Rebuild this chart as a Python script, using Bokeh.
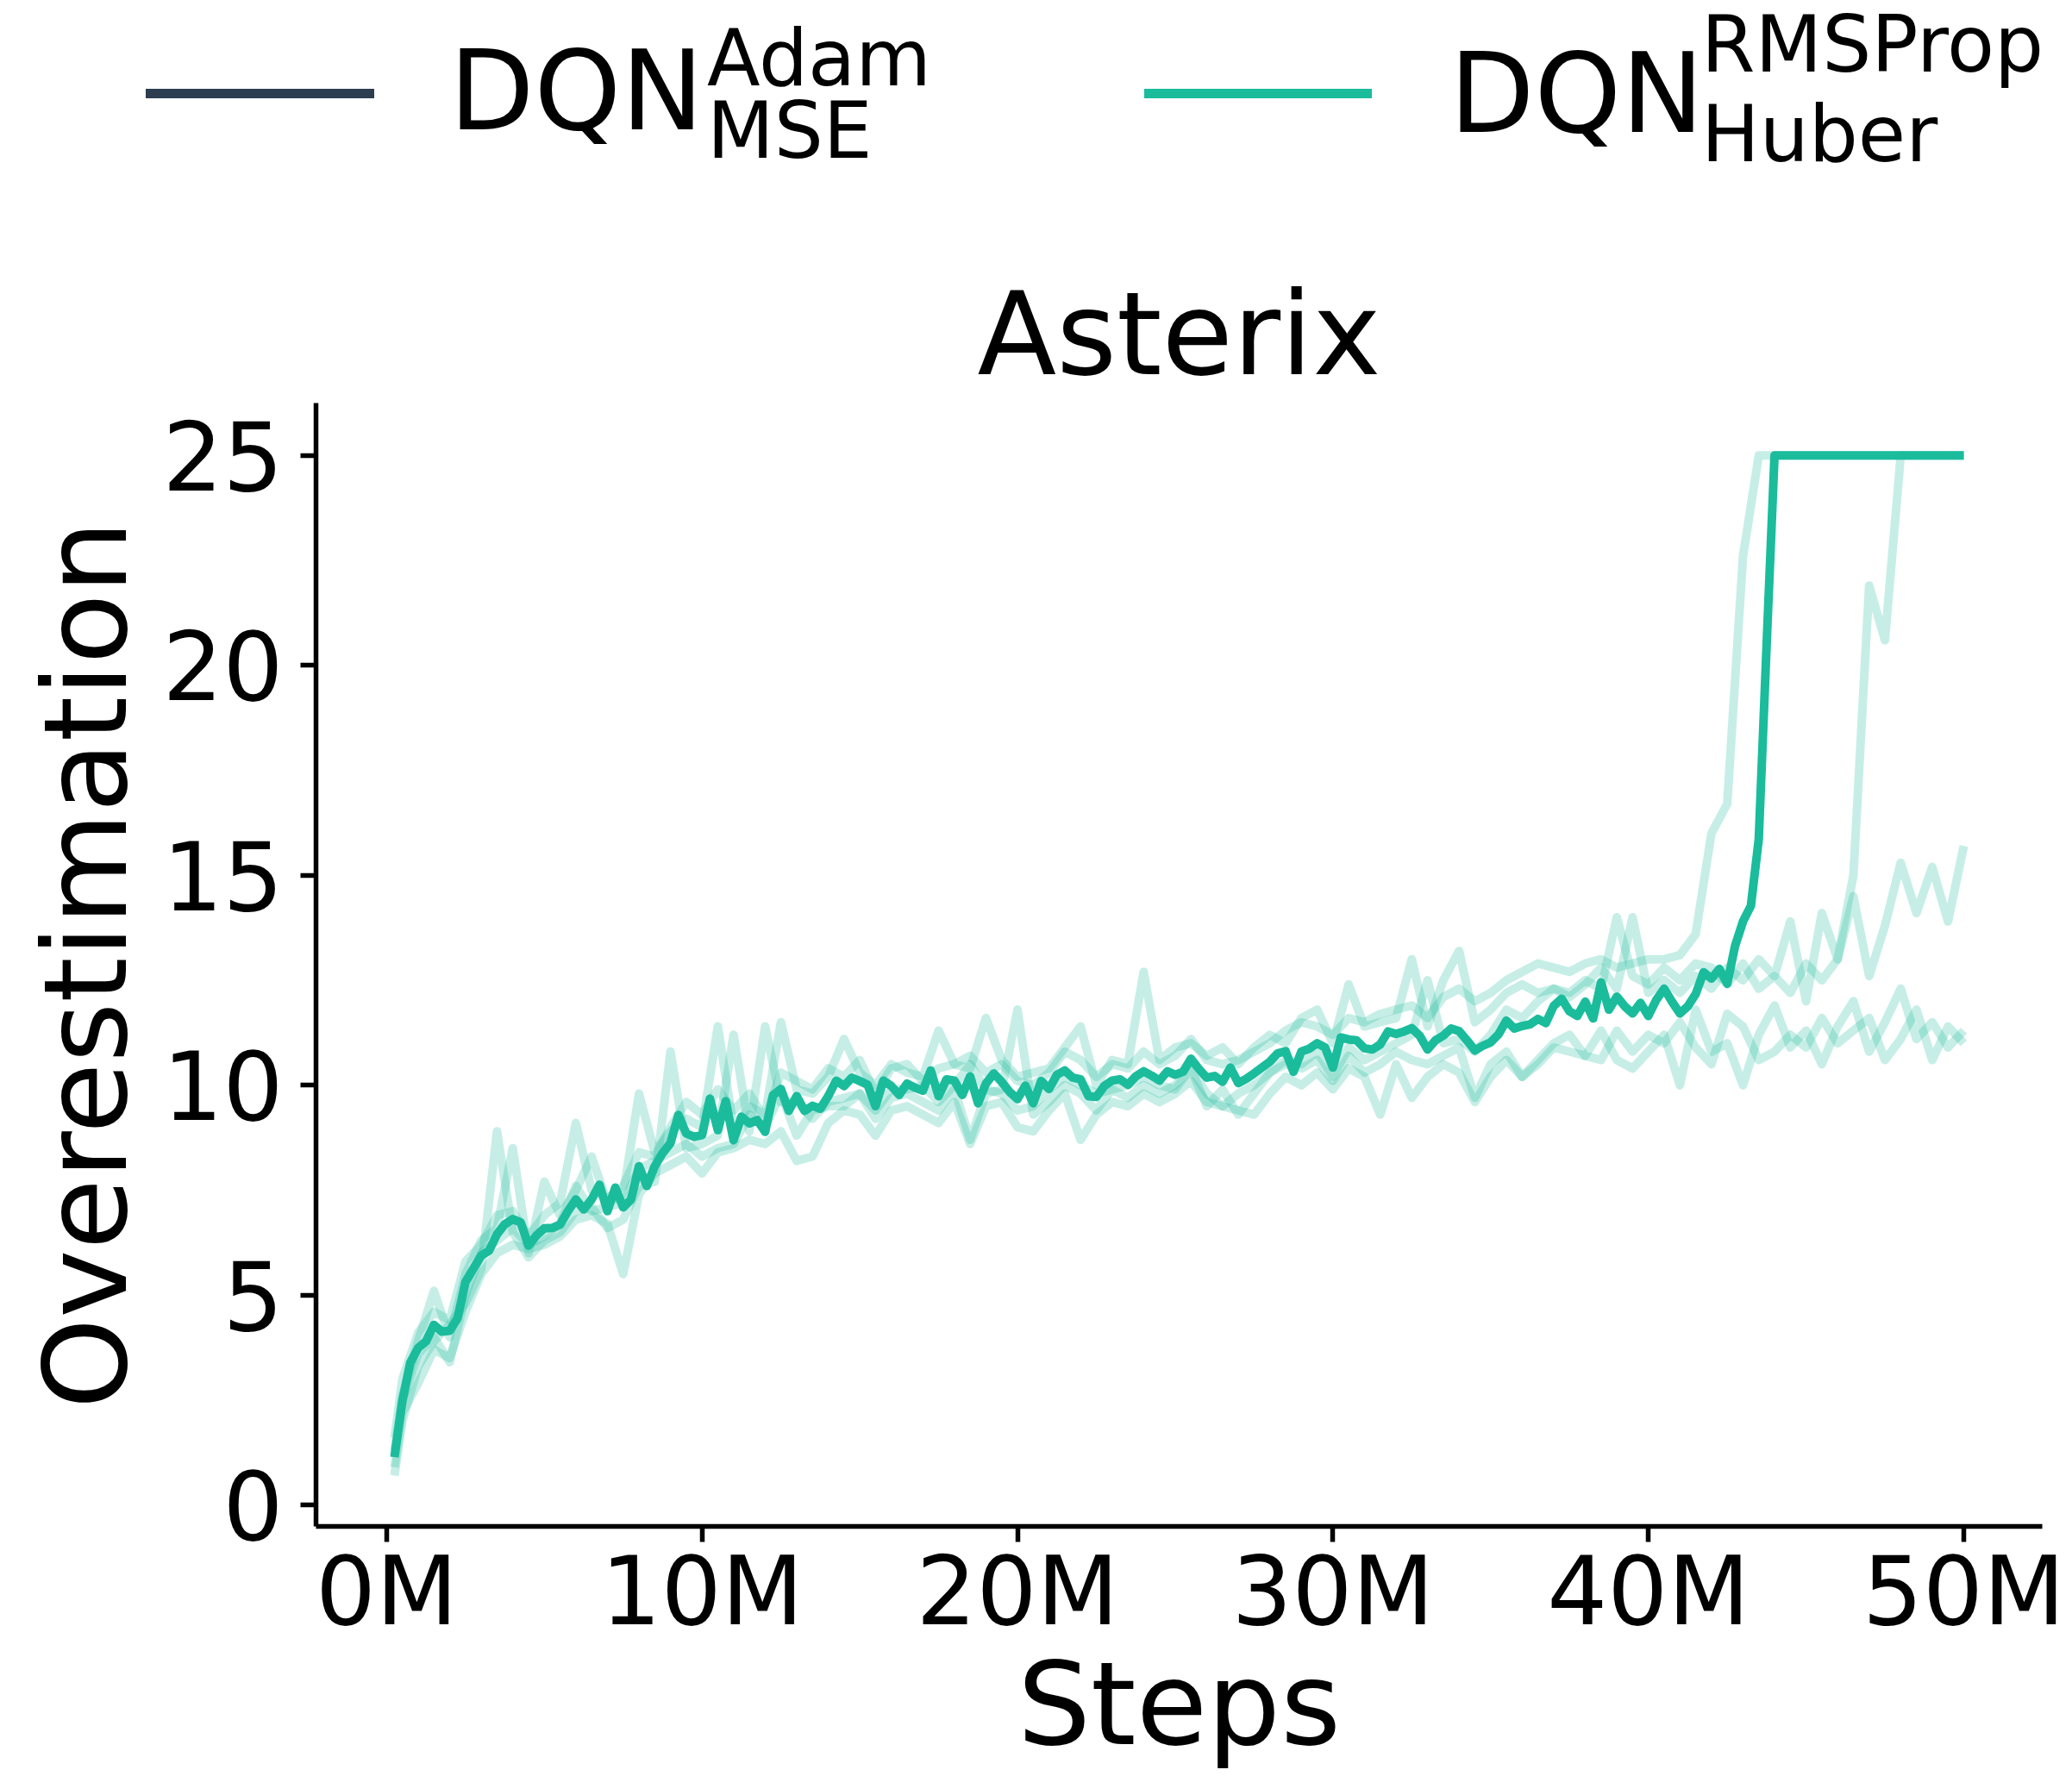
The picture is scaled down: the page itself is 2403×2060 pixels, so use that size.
import numpy as np
from bokeh.plotting import figure
from bokeh.layouts import column
from bokeh.models import Range1d, FixedTicker, Div
from bokeh.embed import file_html
from bokeh.resources import INLINE

FONT = "DejaVu Sans"
TEAL = "#1abc9c"
NAVY = "#2c3e50"

# ---------------------------------------------------------------- data
# evaluation points, in millions of environment steps
steps = np.arange(1, 201) * 0.25                       # mean curve
run_steps = np.concatenate([[0.25], np.arange(1, 101) * 0.5])  # single seeds

# mean overestimation of DQN (RMSProp, Huber), clipped at 25
mean_rmsprop_huber = [
    1.14, 2.48, 3.39, 3.74,   3.90, 4.29, 4.13, 4.15,   4.45, 5.31, 5.63, 5.94,
    6.06, 6.45, 6.69, 6.81,   6.73, 6.18, 6.42, 6.59,   6.60, 6.68, 7.00, 7.28,
    7.04, 7.28, 7.63, 7.00,   7.56, 7.09, 7.28, 8.07,   7.60, 8.07, 8.38, 8.62,
    9.29, 8.85, 8.77, 8.81,   9.68, 8.93, 9.62, 8.69,   9.25, 9.09, 9.17, 8.89,
    9.76, 9.91, 9.39, 9.74,   9.39, 9.51, 9.44, 9.74,   10.11, 9.98, 10.18, 10.10,
    10.01, 9.50, 10.11, 9.98, 9.77, 10.04, 9.94, 9.87,  10.35, 9.74, 10.14, 10.11,
    9.77, 10.21, 9.57, 10.04, 10.28, 10.08, 9.84, 9.67, 9.99, 9.57, 10.10, 9.91,
    10.25, 10.35, 10.18, 10.14, 9.74, 9.72, 9.98, 10.11, 10.14, 10.01, 10.21, 10.33,
    10.23, 10.11, 10.33, 10.25, 10.32, 10.63, 10.39, 10.18, 10.22, 10.08, 10.42, 10.05,
    10.15, 10.28, 10.42, 10.56, 10.76, 10.81, 10.32, 10.80, 10.87, 11.00, 10.90, 10.42,
    11.14, 11.09, 11.07, 10.88, 10.85, 10.97, 11.28, 11.22, 11.28, 11.36, 11.18, 10.85,
    11.07, 11.18, 11.35, 11.29, 11.07, 10.83, 10.94, 11.02, 11.21, 11.54, 11.35, 11.41,
    11.45, 11.58, 11.48, 11.89, 12.06, 11.76, 11.65, 11.99, 11.59, 12.45, 11.80, 12.11,
    11.88, 11.71, 11.96, 11.65, 12.03, 12.30, 11.99, 11.71, 11.88, 12.17, 12.69, 12.54,
    12.77, 12.42, 13.32, 13.90, 14.27, 15.86, 20.50, 25.00,
    25.00, 25.00, 25.00, 25.00, 25.00, 25.00, 25.00, 25.00, 25.00, 25.00, 25.00, 25.00,
    25.00, 25.00, 25.00, 25.00, 25.00, 25.00, 25.00, 25.00, 25.00, 25.00, 25.00, 25.00,
]

# individual seeds
seed_1 = [
    1.6,
    3.0, 4.1, 4.6, 4.4, 5.8, 6.2, 6.9, 7.0, 6.4, 6.9,
    7.2, 9.1, 7.5, 7.3, 7.6, 8.4, 8.3, 9.0, 9.6, 9.3,
    9.9, 9.4, 9.8, 9.2, 10.3, 10.1, 9.9, 10.4, 10.2, 10.6,
    9.8, 10.4, 10.5, 10.1, 10.4, 10.5, 10.7, 10.3, 10.5, 10.1,
    10.0, 10.3, 10.8, 10.6, 10.2, 10.5, 10.4, 10.8, 10.5, 10.7,
    11.1, 10.6, 10.5, 10.6, 10.8, 11.0, 11.3, 11.5, 11.4, 11.2,
    11.6, 11.5, 11.7, 11.8, 11.9, 11.6, 12.1, 12.3, 12.0, 12.2,
    12.5, 12.7, 12.9, 12.8, 12.7, 12.9, 13.0, 12.8, 12.9, 13.0,
    13.0, 13.1, 13.6, 16.0, 16.7, 22.6, 25.0, 25.0, 25.0, 25.0,
    25.0, 25.0, 25.0, 25.0, 25.0, 25.0, 25.0, 25.0, 25.0, 25.0,
]
seed_2 = [
    1.2,
    2.6, 3.9, 5.1, 4.0, 5.5, 6.3, 6.6, 8.5, 6.0, 7.7,
    6.9, 7.5, 8.3, 7.2, 7.4, 9.8, 8.4, 8.9, 9.2, 9.0,
    11.4, 9.0, 9.5, 9.3, 11.5, 9.9, 9.8, 10.2, 11.1, 10.3,
    10.0, 10.5, 10.3, 10.2, 11.3, 10.5, 10.4, 11.6, 10.6, 10.2,
    10.3, 10.4, 10.9, 11.4, 10.0, 10.6, 10.5, 12.7, 10.6, 10.9,
    11.0, 10.7, 10.9, 10.5, 10.9, 11.2, 11.0, 11.6, 11.8, 11.0,
    12.4, 11.4, 11.5, 11.6, 13.0, 11.4, 12.5, 13.2, 11.5, 11.8,
    12.2, 12.4, 12.2, 12.3, 12.2, 12.5, 12.3, 14.0, 12.6, 12.4,
    12.8, 12.5, 12.9, 12.8, 12.4, 12.9, 12.3, 12.6, 12.2, 12.9,
    12.5, 13.0, 15.0, 21.9, 20.6, 25.0, 25.0, 25.0, 25.0, 25.0,
]
seed_3 = [
    0.7,
    2.0, 3.3, 3.9, 4.3, 4.8, 5.6, 8.9, 6.5, 5.9, 6.3,
    6.5, 7.0, 7.1, 6.6, 6.8, 7.6, 7.7, 10.8, 8.5, 8.6,
    8.8, 11.2, 8.9, 11.4, 9.6, 9.6, 9.2, 9.6, 9.7, 9.8,
    9.2, 9.7, 9.8, 9.6, 9.4, 9.9, 8.7, 9.8, 9.9, 11.8,
    9.3, 9.6, 10.0, 9.8, 9.4, 9.9, 9.7, 10.0, 9.8, 10.0,
    10.4, 9.8, 9.5, 9.8, 10.0, 10.3, 10.6, 10.5, 10.8, 10.2,
    10.9, 10.6, 10.8, 11.0, 11.2, 12.5, 11.0, 11.1, 10.8, 11.2,
    11.8, 11.6, 12.0, 12.3, 12.1, 12.4, 12.8, 12.3, 14.0, 12.2,
    12.5, 12.2, 12.6, 12.3, 12.8, 12.5, 13.0, 12.6, 13.9, 12.0,
    14.1, 13.0, 14.5, 12.6, 13.8, 15.3, 14.1, 15.2, 13.9, 15.7,
]
seed_4 = [
    0.9,
    2.2, 2.9, 3.7, 3.5, 4.6, 5.5, 6.0, 6.2, 6.1, 6.2,
    6.4, 6.8, 6.9, 6.7, 5.5, 7.4, 7.9, 8.1, 8.3, 7.9,
    8.4, 8.5, 8.7, 8.6, 8.9, 8.2, 8.3, 9.1, 9.4, 9.3,
    8.8, 9.4, 9.5, 9.3, 9.1, 9.6, 8.6, 9.5, 9.6, 9.0,
    8.9, 9.4, 9.8, 8.7, 9.3, 9.6, 9.5, 9.8, 9.6, 9.8,
    10.1, 9.6, 9.5, 9.4, 9.3, 9.8, 10.2, 10.0, 10.3, 9.9,
    10.4, 10.2, 9.3, 10.5, 9.7, 10.2, 10.5, 10.3, 9.6, 10.2,
    10.6, 10.2, 10.5, 10.9, 10.8, 10.7, 11.3, 10.6, 10.4, 10.8,
    11.2, 10.0, 11.8, 10.8, 11.0, 10.0, 11.2, 11.9, 10.9, 11.3,
    10.5, 11.4, 12.0, 10.8, 11.5, 12.3, 11.1, 11.5, 10.9, 11.3,
]
seed_5 = [
    1.3,
    2.5, 3.6, 4.0, 3.4, 5.0, 6.0, 6.3, 6.6, 6.2, 6.4,
    6.7, 7.6, 7.0, 7.1, 7.2, 8.0, 8.2, 8.4, 8.6, 8.3,
    8.5, 8.6, 9.3, 9.0, 9.8, 8.8, 9.4, 9.5, 9.5, 9.8,
    9.4, 9.9, 9.9, 10.0, 9.6, 10.0, 10.5, 9.9, 9.8, 9.4,
    9.5, 9.9, 10.2, 10.0, 9.8, 9.9, 10.0, 10.2, 10.0, 9.9,
    10.4, 9.5, 9.9, 9.3, 9.8, 10.3, 10.5, 10.4, 10.6, 10.1,
    10.7, 10.3, 10.5, 10.8, 10.6, 10.5, 10.7, 10.9, 9.7, 10.5,
    10.8, 10.2, 10.6, 11.0, 11.2, 10.7, 10.6, 11.3, 10.8, 11.2,
    11.0, 11.5, 10.9, 10.5, 11.7, 11.4, 10.6, 10.8, 11.2, 10.9,
    11.6, 11.0, 11.3, 11.6, 10.6, 11.1, 11.8, 10.6, 11.4, 11.0,
]
seeds = [seed_1, seed_2, seed_3, seed_4, seed_5]

x_ticks = [0, 10, 20, 30, 40, 50]
x_tick_labels = ["0M", "10M", "20M", "30M", "40M", "50M"]
y_ticks = [0, 5, 10, 15, 20, 25]

legend_names = ["DQN", "DQN"]
legend_sup = ["Adam", "RMSProp"]
legend_sub = ["MSE", "Huber"]
legend_colors = [NAVY, TEAL]

# ---------------------------------------------------------------- legend strip (HTML)
W, H = 2403, 2060
LEG_H = 240
BIG, SMALL = 128, 90
LINE_H = 0.75
# distance from the top of a line box to the baseline for DejaVu Sans
# (ascent 0.928 em, descent 0.236 em) when line-height is LINE_H em
ASC = (LINE_H - (0.928 + 0.236)) / 2 + 0.928

handle_x = [(169, 434), (1327, 1591)]
name_pos = [(521, 150), (1681, 153)]
sup_pos = [(820, 99), (1973, 83)]
sub_pos = [(820, 183), (1973, 187)]


def text_span(txt, x, baseline, size):
    top = baseline - ASC * size
    return (f'<span style="position:absolute;left:{x}px;top:{top:.1f}px;font-size:{size}px;'
            f'line-height:{LINE_H * size:.1f}px;white-space:nowrap;">{txt}</span>')


parts = []
for i in range(2):
    x0, x1 = handle_x[i]
    parts.append(f'<div style="position:absolute;left:{x0}px;top:102.5px;width:{x1 - x0}px;'
                 f'height:11px;background:{legend_colors[i]};"></div>')
    parts.append(text_span(legend_names[i], *name_pos[i], BIG))
    parts.append(text_span(legend_sup[i], *sup_pos[i], SMALL))
    parts.append(text_span(legend_sub[i], *sub_pos[i], SMALL))

legend_html = (f'<div style="position:relative;width:{W}px;height:{LEG_H}px;margin:0;padding:0;'
               f'font-family:\'{FONT}\';color:#000000;">' + "".join(parts) + '</div>')
legend_div = Div(text=legend_html, width=W, height=LEG_H, margin=(0, 0, 0, 0),
                 styles={"padding": "0", "margin": "0", "overflow": "visible"})

# ---------------------------------------------------------------- main plot
FRAME_L, FRAME_R, FRAME_T, FRAME_B = 366, 2368, 467, 1770
X0, X1 = -2.2375, 52.4875
Y0, Y1 = -0.51, 26.25

p = figure(width=W, height=H - LEG_H, title="Asterix",
           x_range=Range1d(X0, X1), y_range=Range1d(Y0, Y1),
           output_backend="svg", toolbar_location=None,
           min_border_left=FRAME_L, min_border_right=W - FRAME_R,
           min_border_top=FRAME_T - LEG_H, min_border_bottom=H - FRAME_B,
           outline_line_color=None, margin=(0, 0, 0, 0))
p.xgrid.visible = False
p.ygrid.visible = False

for s in seeds:
    p.line(run_steps, s, line_color=TEAL, line_alpha=0.25, line_width=10, line_join="round")
p.line(steps, mean_rmsprop_huber, line_color=TEAL, line_width=10, line_join="round")

p.title.text_font = FONT
p.title.text_font_size = "134px"
p.title.text_font_style = "normal"
p.title.text_color = "black"
p.title.align = "center"
p.title.standoff = 4

p.xaxis.ticker = FixedTicker(ticks=x_ticks)
p.xaxis.major_label_overrides = {t: lab for t, lab in zip(x_ticks, x_tick_labels)}
p.yaxis.ticker = FixedTicker(ticks=y_ticks)
p.xaxis.axis_label = "Steps"
p.yaxis.axis_label = "Overestimation"

for ax in (p.xaxis[0], p.yaxis[0]):
    ax.axis_line_width = 5.5
    ax.axis_line_color = "black"
    ax.major_tick_line_width = 5.5
    ax.major_tick_line_color = "black"
    ax.major_tick_out = 18
    ax.major_tick_in = 0
    ax.minor_tick_out = 0
    ax.minor_tick_in = 0
    ax.major_label_text_font = FONT
    ax.major_label_text_font_size = "110px"
    ax.major_label_text_color = "black"
    ax.axis_label_text_font = FONT
    ax.axis_label_text_font_size = "134px"
    ax.axis_label_text_font_style = "normal"
    ax.axis_label_text_color = "black"

p.xaxis.major_label_standoff = -7
p.xaxis.axis_label_standoff = -14
p.yaxis.major_label_standoff = 20
p.yaxis.axis_label_standoff = 8

layout = column(legend_div, p, spacing=0, margin=(0, 0, 0, 0))
open("out.html", "w").write(file_html(layout, INLINE))
